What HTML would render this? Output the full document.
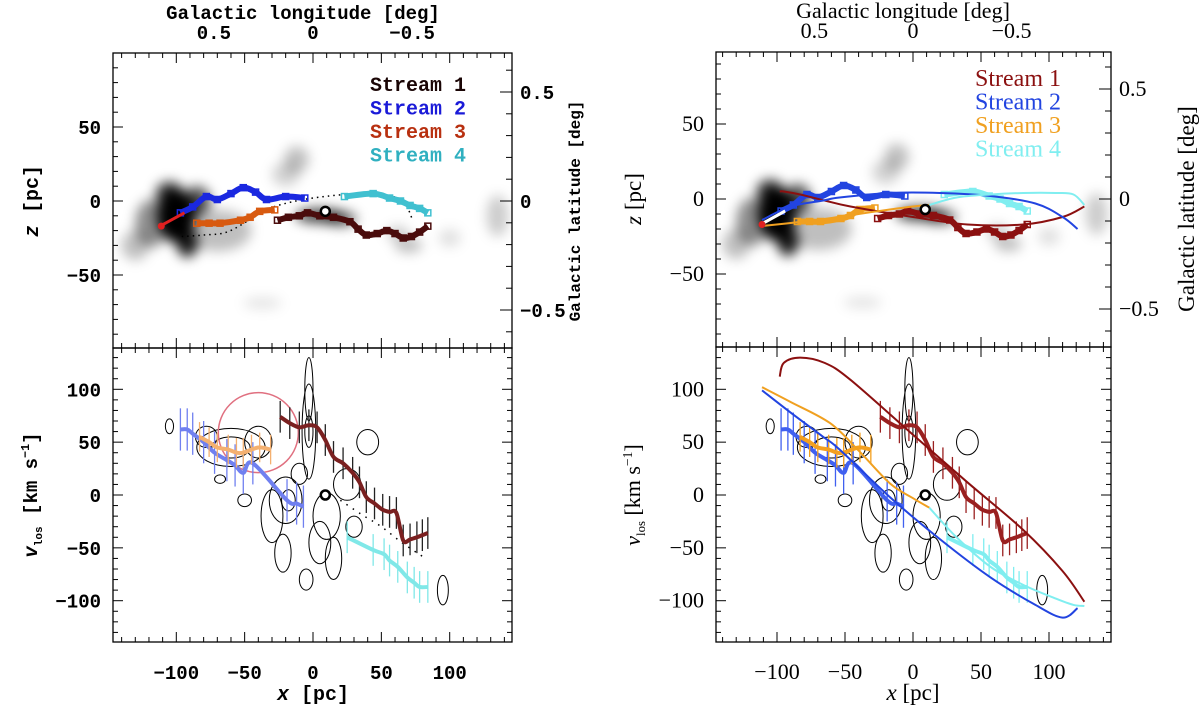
<!DOCTYPE html>
<html><head><meta charset="utf-8"><style>
html,body{margin:0;padding:0;background:#fff;}
svg{display:block;}
</style></head><body>
<svg id="fig" xmlns="http://www.w3.org/2000/svg" width="1200" height="714" viewBox="0 0 1200 714">
<defs>
<filter id="blur" x="-50%" y="-50%" width="200%" height="200%"><feGaussianBlur stdDeviation="6"/></filter>
<clipPath id="clipLT"><rect x="113" y="53" width="399" height="295"/></clipPath>
<clipPath id="clipLB"><rect x="113" y="348" width="399" height="294"/></clipPath>
<clipPath id="clipRT"><rect x="716" y="52" width="395" height="295"/></clipPath>
<clipPath id="clipRB"><rect x="716" y="347" width="395" height="295"/></clipPath>
</defs>
</svg>
<script>
// ---- observed stream data (x [pc], z [pc]) ----
const s1X = [-26,-18,-10,-4,5,15,27,33,39,47,54,60,66,72,78,84];
const s1Z = [-13,-11,-10,-8,-10,-11,-14,-19,-23,-22,-20,-22,-25,-24,-21,-17];
const s2X = [-97,-88,-78,-70,-60,-51,-42,-34,-20,-6];
const s2Z = [-8,-4,3,1,5,9,6,1,3,2];
const s3X = [-85,-76,-68,-53,-46,-39,-28];
const s3Z = [-15,-15,-15,-13,-11,-7,-6];
const s4X = [23,44,56,64,71,78,84];
const s4Z = [3,5,2,0,-3,-5,-8];
// ---- observed line-of-sight velocities (x [pc], v [km/s]) ----
const v1X = [-24,-17,-10,-3,3,9,15,22,29,34,39,45,51,56,61,66,71,76,80,84];
const v1V = [74,68,64,66,64,52,36,30,21,12,-2,-8,-14,-16,-17,-43,-42,-40,-38,-36];
const v2X = [-97,-92,-88,-80,-72,-63,-57,-51,-44,-19,-12,-7];
const v2V = [62,62,58,50,40,33,28,21,30,-5,-8,-11];
const v3X = [-83,-76,-70,-62,-56,-51,-45,-39,-31];
const v3V = [55,50,45,43,40,40,43,45,43];
const v4X = [25,44,52,56,62,69,74,78,84];
const v4V = [-40,-52,-56,-62,-68,-78,-83,-87,-87];
// ---- model orbit segments (right panel) ----
const m3X = [-111,-90,-61,-40,-17,0,12];
const m3Z = [-18,-16,-13,-10,-7,-5,-4];
const m3V = [102,88,68,42,11,-3,-12];
const m4X = [12,32,57,81,105,118,126];
const m4Z = [-4,1,3,4,4,3,-4];
const m4V = [-12,-40,-68,-85,-98,-104,-105];
const m1X = [-98,-95,-83,-65,-46,0,40,81,110,126];
const m1Z = [5,5,3,-1,-5,-12,-17,-17,-12,-5];
const m1V = [112,125,130,125,109,57,12,-33,-72,-101];
const m2X = [-111,-90,-66,-54,-17,20,57,90,110,121];
const m2Z = [-14,-5,-1,1,4,4,2,-3,-12,-20];
const m2V = [99,78,55,43,-2,-42,-78,-104,-116,-107];
// ---- left panel dotted orbit ----
const dotX = [-96,-80,-63,-45,-29,0,39,64,73];
const dotZ = [-24,-23,-21,-12,-4,2,5,1,-13];
const dotVX = [20,35,50,65,80];
const dotVV = [-5,-18,-30,-45,-58];
// ---- gas density blobs: x, z, rx, rz, darkness ----
const gasX = [-100,-92,-105,-85,-118,-70,-12,-20,5,20,70,62,135,-37,-130,100];
const gasZ = [-10,-28,5,0,-15,-20,28,18,-10,-12,-30,-22,-10,-69,-30,-25];
const gasRX = [14,8,10,10,12,25,9,10,18,12,10,8,8,14,10,8];
const gasRZ = [18,10,8,10,16,14,9,8,5,5,5,5,14,4,10,6];
const gasD = [1.0,0.9,0.8,0.7,0.45,0.25,0.25,0.18,0.75,0.6,0.25,0.2,0.2,0.1,0.25,0.12];
// ---- contour blobs (x, v, rx, rv) ----
const conX = [-3,-3,-3,-20,-18,-30,10,25,-60,-60,-78,-105,-40,-22,40,-50,95,-68,5,15,-5,30,-10];
const conV = [60,60,100,-5,-5,-20,-20,10,45,45,55,65,50,-55,50,-5,-90,15,-45,-60,-80,-30,20];
const conRX = [5,3,3,12,5,8,10,10,25,14,8,3,10,6,8,5,4,4,8,6,5,6,6];
const conRV = [45,15,30,22,10,25,22,15,18,10,10,7,15,18,12,6,14,4,20,20,10,10,10];

const NS='http://www.w3.org/2000/svg';
const svg=document.getElementById('fig');
function el(tag,attrs,parent,text){const e=document.createElementNS(NS,tag);for(const k in attrs)e.setAttribute(k,attrs[k]);if(text!==undefined)e.textContent=text;(parent||svg).appendChild(e);return e;}
function smooth(pts){if(pts.length<2)return '';let d='M'+pts[0][0]+','+pts[0][1];for(let i=0;i<pts.length-1;i++){const p0=pts[i-1]||pts[i],p1=pts[i],p2=pts[i+1],p3=pts[i+2]||p2;const c1=[p1[0]+(p2[0]-p0[0])/6,p1[1]+(p2[1]-p0[1])/6],c2=[p2[0]-(p3[0]-p1[0])/6,p2[1]-(p3[1]-p1[1])/6];d+=' C'+c1[0]+','+c1[1]+' '+c2[0]+','+c2[1]+' '+p2[0]+','+p2[1];}return d;}

function panel(P){
  const X=x=>P.x0+P.sx*x, Z=z=>P.z0-P.sz*z, V=v=>P.v0-P.sv*v;
  const fs=P.fs;
  const g=el('g',{'font-family':P.font,'font-weight':P.fw});
  
  
  const gg=el('g',{'clip-path':'url(#clip'+P.c+'T)'},g);
  
  
  const gb=el('g',{filter:'url(#blur)'},gg);
  for(let i=0;i<gasX.length;i++){
    const e=el('ellipse',{cx:X(gasX[i]),cy:Z(gasZ[i]),rx:P.sx*gasRX[i],ry:P.sz*gasRZ[i],fill:'#000','fill-opacity':gasD[i]},gb);
    
    
  }
  const cg=el('g',{'clip-path':'url(#clip'+P.c+'B)',fill:'none',stroke:'#000','stroke-width':1},g);
  
  
  for(let i=0;i<conX.length;i++){
    const e=el('ellipse',{cx:X(conX[i]),cy:V(conV[i]),rx:P.sx*conRX[i],ry:P.sv*conRV[i]},cg);
    
    
  }
  const streams=[[s1X,s1Z,v1X,v1V,P.col[0],P.vcol[0],15],[s2X,s2Z,v2X,v2V,P.col[1],P.vcol[1],20],[s3X,s3Z,v3X,v3V,P.col[2],P.vcol[2],14],[s4X,s4Z,v4X,v4V,P.col[3],P.vcol[3],15]];
  const tg=el('g',{'clip-path':'url(#clip'+P.c+'T)'},g);
  const bg=el('g',{'clip-path':'url(#clip'+P.c+'B)'},g);
  if(P.dotted){
    const d1=el('path',{d:smooth(dotX.map((x,i)=>[X(x),Z(dotZ[i])])),fill:'none',stroke:'#000','stroke-width':1.5,'stroke-dasharray':'1.5 4'},tg);
    
    
    const d2=el('path',{d:smooth(dotVX.map((x,i)=>[X(x),V(dotVV[i])])),fill:'none',stroke:'#000','stroke-width':1.5,'stroke-dasharray':'1.5 6'},bg);
    
    
    const c=el('circle',{cx:X(-40),cy:V(59),r:40,fill:'none',stroke:'#e07080','stroke-width':1.5},bg);
    
    
  }
  streams.forEach((s,k)=>{
    const l=el('path',{d:smooth(s[0].map((x,i)=>[X(x),Z(s[1][i])])),fill:'none',stroke:s[4],'stroke-width':6,'stroke-linejoin':'round'},tg);
    
    
    s[0].forEach((x,i)=>{
      const m=el('rect',{x:X(x)-3,y:Z(s[1][i])-3,width:6,height:6,fill:'none',stroke:s[4],'stroke-width':1.5},tg);
      
      
    });
    s[2].forEach((x,i)=>{
      const b=el('line',{x1:X(x),x2:X(x),y1:V(s[3][i]+s[6]),y2:V(s[3][i]-s[6]),stroke:(k===0&&P.dotted)?'#222':s[5],'stroke-width':1.3},bg);
      
      
    });
    const lv=el('path',{d:smooth(s[2].map((x,i)=>[X(x),V(s[3][i])])),fill:'none',stroke:s[5],'stroke-width':4},bg);
    
    
  });
  if(P.model){
    const mods=[[m1X,m1Z,m1V,P.col[0]],[m2X,m2Z,m2V,P.col[1]],[m3X,m3Z,m3V,P.col[2]],[m4X,m4Z,m4V,P.col[3]]];
    mods.forEach((m,k)=>{
      const a=el('path',{d:smooth(m[0].map((x,i)=>[X(x),Z(m[1][i])])),fill:'none',stroke:m[3],'stroke-width':2},tg);
      
      
      const b=el('path',{d:smooth(m[0].map((x,i)=>[X(x),V(m[2][i])])),fill:'none',stroke:m[3],'stroke-width':2},bg);
      
      
    });
  }
  const ar=el('line',{x1:X(-94),y1:Z(-8),x2:X(-110),y2:Z(-16),stroke:P.model?'#fff':'#e02020','stroke-width':3},tg);
  
  
  const ad=el('circle',{cx:X(-111),cy:Z(-17),r:3.5,fill:'#e02020'},tg);
  
  
  const o1=el('circle',{cx:X(9),cy:Z(-7),r:4.5,fill:'#fff',stroke:'#000','stroke-width':2.5},g);
  
  
  const o2=el('circle',{cx:X(9),cy:V(0),r:4.5,fill:'#fff',stroke:'#000','stroke-width':2.5},g);
  
  
  [[P.T,P.M],[P.M,P.B]].forEach((r,i)=>{
    const f=el('rect',{x:P.L,y:r[0],width:P.R-P.L,height:r[1]-r[0],fill:'none',stroke:'#000','stroke-width':1.3},g);
    
    
  });
  for(let x=-140;x<=140;x+=10){
    const px=X(x); if(px<P.L||px>P.R)continue;
    const len=(x%50===0)?10:5;
    [[P.T,1],[P.M,-1],[P.M,1],[P.B,-1]].forEach(t=>{el('line',{x1:px,x2:px,y1:t[0],y2:t[0]+t[1]*len,stroke:'#000','stroke-width':1},g);});
  }
  [-100,-50,0,50,100].forEach(x=>{
    const t=el('text',{x:X(x),y:P.B+37,'text-anchor':'middle','font-size':fs},g,(x<0?'\u2212':'')+Math.abs(x));
    
    
  });
  for(let z=-90;z<=90;z+=10){
    const py=Z(z);const len=(z%50===0)?10:5;
    el('line',{x1:P.L,x2:P.L+len,y1:py,y2:py,stroke:'#000'},g);
  }
  [50,0,-50].forEach(z=>{
    const t=el('text',{x:P.L-12,y:Z(z)+7,'text-anchor':'end','font-size':fs},g,(z<0?'\u2212':'')+Math.abs(z));
    
    
  });
  for(let v=-130;v<=130;v+=10){
    const py=V(v);const len=(v%50===0)?10:5;
    el('line',{x1:P.L,x2:P.L+len,y1:py,y2:py,stroke:'#000'},g);
    el('line',{x1:P.R,x2:P.R-len,y1:py,y2:py,stroke:'#000'},g);
  }
  [100,50,0,-50,-100].forEach(v=>{
    const t=el('text',{x:P.L-12,y:V(v)+7,'text-anchor':'end','font-size':fs},g,(v<0?'\u2212':'')+Math.abs(v));
    
    
  });
  for(let b=-6;b<=6;b++){
    const py=P.b0-P.sb*b/10; if(py<P.T||py>P.M)continue;
    const len=(b%5===0)?12:6;
    el('line',{x1:P.R,x2:P.R-len,y1:py,y2:py,stroke:'#000'},g);
  }
  [[5,'0.5'],[0,'0'],[-5,'\u22120.5']].forEach(b=>{
    const t=el('text',{x:P.R+8,y:P.b0-P.sb*b[0]/10+7,'font-size':fs},g,b[1]);
    
    
  });
  [[0.5,'0.5'],[0,'0'],[-0.5,'\u22120.5']].forEach(l=>{
    const t=el('text',{x:P.x0-P.sx*l[0]*145,y:P.T-14,'text-anchor':'middle','font-size':fs},g,l[1]);
    
    
  });
  let t;
  t=el('text',{x:P.x0-10,y:P.T-34,'text-anchor':'middle','font-size':fs},g,'Galactic longitude [deg]');
  
  t=el('text',{x:P.x0,y:P.B+58,'text-anchor':'middle','font-size':fs+1},g,'');
  
  el('tspan',{'font-style':'italic'},t,'x');el('tspan',{},t,' [pc]');
  t=el('text',{transform:'translate('+(P.L-75)+','+P.z0+') rotate(-90)','text-anchor':'middle','font-size':fs+1},g,'');
  
  el('tspan',{'font-style':'italic'},t,'z');el('tspan',{},t,' [pc]');
  t=el('text',{transform:'translate('+(P.L-76)+','+P.v0+') rotate(-90)','text-anchor':'middle','font-size':fs},g,'');
  
  el('tspan',{'font-style':'italic'},t,'v');el('tspan',{'font-size':fs*0.58,dy:5},t,'los');el('tspan',{dy:-5},t,' [km s');el('tspan',{'font-size':fs*0.62,dy:-8},t,'\u22121');el('tspan',{dy:8},t,']');
  t=el('text',{transform:'translate('+P.latX+','+(P.z0+10)+') rotate(-90)','text-anchor':'middle','font-size':P.latFS},g,'Galactic latitude [deg]');
  
  ['Stream 1','Stream 2','Stream 3','Stream 4'].forEach((s,i)=>{
    const lt=el('text',{x:P.legX,y:P.legY+i*23.5,'font-size':P.legFS,fill:P.legCol[i]},g,s);
    
    
  });
}
panel({id:'left',c:'L',x0:313,sx:1.367,L:113,R:512,T:53,M:348,B:642,z0:201,sz:1.48,v0:495,sv:1.057,b0:201,sb:218,fs:19,latFS:16,
  font:'"Liberation Mono", monospace',fw:'bold',latX:580,legX:370,legY:91,legFS:20,dotted:true,model:false,
  col:['#4a0c0c','#1a28e0','#d85a10','#40c0d0'],vcol:['#7a2020','#7080f0','#f4b070','#80e8e8'],
  legCol:['#1a0505','#1a1ad8','#b83010','#30b0c0']});
panel({id:'right',c:'R',x0:913,sx:1.36,L:716,R:1111,T:52,M:347,B:642,z0:199,sz:1.5,v0:495,sv:1.057,b0:199,sb:220,fs:22,latFS:23,
  font:'"Liberation Serif", serif',fw:'normal',latX:1194,legX:975,legY:86,legFS:24,dotted:false,model:true,
  col:['#8b1010','#2244e0','#f0a020','#80eef0'],vcol:['#9a2020','#4060f0','#f4a020','#80eef0'],
  legCol:['#8b1010','#2244e0','#f0a020','#80eef0']});
</script>
</body></html>
